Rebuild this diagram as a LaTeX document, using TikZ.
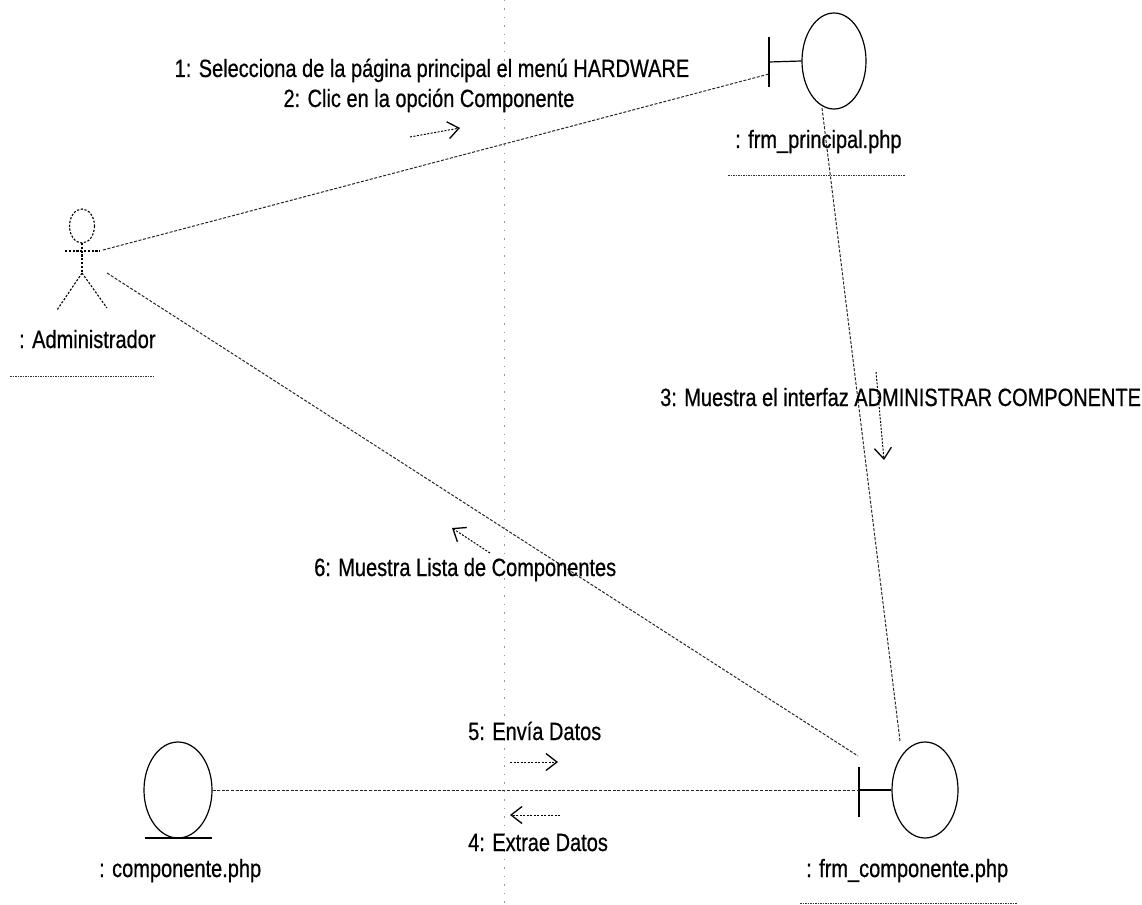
\documentclass[tikz,border=0pt]{standalone}
\usepackage{fontspec}
\setmainfont{Liberation Sans}[FakeStretch=0.8,FakeBold=0.6]
\usetikzlibrary{arrows.meta,shapes.geometric}
\begin{document}
\begin{tikzpicture}[x=1pt,y=-1pt,
  link/.style={draw=black!85, line width=1pt, dash pattern=on 3pt off 1.6pt},
  obj/.style={draw, ellipse, line width=1.2pt, inner sep=0pt},
  bar/.style={draw, line width=1.5pt},
  lbl/.style={font=\fontsize{25}{28}\selectfont, inner sep=0pt},
  msg/.style={draw, line width=1pt, dash pattern=on 2pt off 1.5pt,
    -{Straight Barb[length=11pt,width=17pt,line width=1.3pt]}},
  uline/.style={draw=black!80, line width=0.9pt, dash pattern=on 1.5pt off 1pt},
  actorline/.style={draw, line width=1.1pt, dash pattern=on 2.2pt off 1.6pt},
  fold/.style={draw=black!40, line width=0.7pt, dash pattern=on 1.5pt off 7pt},
]
\useasboundingbox (0,0) rectangle (1142,904);

% faint vertical fold line
\draw[fold] (504,0) -- (504,904);

% actor
\coordinate (admin) at (82,251);
\draw[actorline] (82,226) ellipse [x radius=12.5, y radius=17];
\draw[actorline] (65,251) -- (100,251);
\draw[actorline] (82,243) -- (82,273);
\draw[actorline] (82,273) -- (57,310);
\draw[actorline] (82,273) -- (107,308);
\node[lbl, anchor=base west] (adminlbl) at (19,348) {: Administrador};
\draw[uline] (10,376) -- (153,376);

% boundary frm_principal.php
\node[obj, minimum width=64pt, minimum height=96pt] (pr) at (834,61) {};
\coordinate (prbar) at (769,62);
\draw[line width=1.2pt] (pr.west) -- (prbar);
\draw[bar] (769,37) -- (769,87);
\node[lbl, anchor=base west] (prlbl) at (735,148) {: frm\_principal.php};
\draw[uline] (728,175) -- (905,175);

% boundary frm_componente.php
\node[obj, minimum width=66pt, minimum height=96pt] (co) at (925,790) {};
\coordinate (cobar) at (859,790);
\draw[line width=1.2pt] (co.west) -- (cobar);
\draw[bar] (859,767) -- (859,817);
\node[lbl, anchor=base west] (colbl) at (806,877) {: frm\_componente.php};
\draw[uline] (800,903) -- (1017,903);

% entity componente.php
\node[obj, minimum width=68pt, minimum height=96pt] (en) at (178,790) {};
\draw[line width=1.2pt] (145,838) -- (212,838);
\node[lbl, anchor=base west] (enlbl) at (99,877) {: componente.php};

% links
\coordinate (a1) at (103,250);
\coordinate (p1) at (769,74);
\coordinate (a2) at (107,273);
\coordinate (c2) at (858,756);
\coordinate (p3) at (822,108);
\coordinate (c3) at (900,741);
\draw[link] (a1) -- (p1);
\draw[link] (a2) -- (c2);
\draw[link] (p3) -- (c3);
\draw[link] (en.east) -- (cobar);

% messages
\node[lbl, anchor=base] (m1) at (432,77) {1: Selecciona de la página principal el menú HARDWARE};
\node[lbl, anchor=base] (m2) at (429,107) {2: Clic en la opción Componente};
\coordinate (m2s) at (410,137);
\coordinate (m2e) at (460,128);
\draw[msg] (m2s) -- (m2e);

\node[lbl, anchor=base west] (m3) at (660,406) {3: Muestra el interfaz ADMINISTRAR COMPONENTE};
\coordinate (m3s) at (876,372);
\coordinate (m3e) at (884,460);
\draw[msg] (m3s) -- (m3e);

\node[lbl, anchor=base west] (m6) at (314,576) {6: Muestra Lista de Componentes};
\coordinate (m6s) at (490,553);
\coordinate (m6e) at (452,528);
\draw[msg] (m6s) -- (m6e);

\node[lbl, anchor=base west] (m5) at (468,740) {5: Envía Datos};
\coordinate (m5s) at (510,762);
\coordinate (m5e) at (558,762);
\draw[msg] (m5s) -- (m5e);

\node[lbl, anchor=base west] (m4) at (468,851) {4: Extrae Datos};
\coordinate (m4s) at (560,815);
\coordinate (m4e) at (510,815);
\draw[msg] (m4s) -- (m4e);
\end{tikzpicture}
\end{document}
